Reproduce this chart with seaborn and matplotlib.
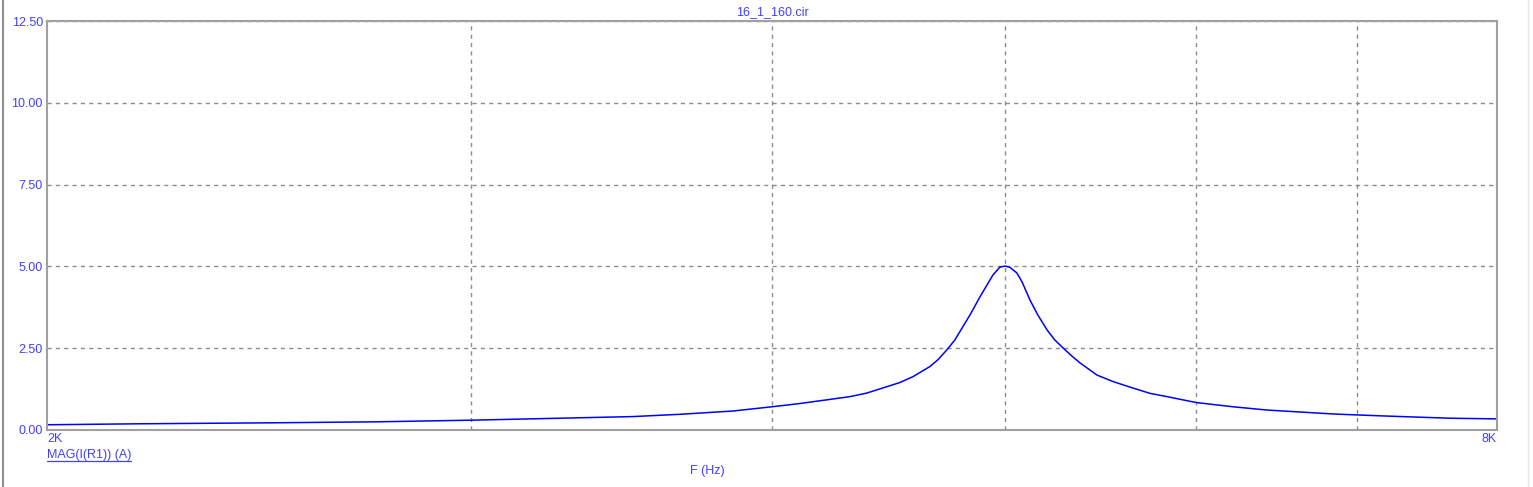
import numpy as np
import pandas as pd
import matplotlib
matplotlib.use('Agg')
import matplotlib.pyplot as plt
import matplotlib.ticker as mticker
from matplotlib.lines import Line2D
import seaborn as sns

# values
freq = [2000, 2186, 2482, 2742, 3000, 3266, 3502, 3663, 3853, 4000, 4109, 4310,
        4380, 4520, 4577, 4652, 4688, 4728, 4764, 4801, 4834, 4880, 4941, 4974,
        5000, 5022, 5055, 5080, 5119, 5158, 5203, 5242, 5283, 5328, 5370, 5457,
        5542, 5633, 5741, 5835, 6000, 6215, 6421, 6839, 7000, 7174, 7648, 8000]
mag = [0.16, 0.19, 0.22, 0.25, 0.30, 0.36, 0.41, 0.48, 0.58, 0.71, 0.81, 1.02,
       1.13, 1.45, 1.63, 1.94, 2.15, 2.45, 2.75, 3.16, 3.52, 4.07, 4.74, 4.98,
       5.01, 4.97, 4.80, 4.53, 3.97, 3.51, 3.06, 2.75, 2.51, 2.26, 2.05, 1.68,
       1.48, 1.31, 1.12, 1.02, 0.84, 0.71, 0.61, 0.49, 0.46, 0.43, 0.36, 0.34]
y_ticks = [0, 2.5, 5, 7.5, 10, 12.5]
x_grid = [3000, 4000, 5000, 6000, 7000]
x_labels = {2000: '2K', 8000: '8K'}

df = pd.DataFrame({'F': freq, 'MAG': mag})

sns.set_style('white')
plt.rcParams['font.family'] = ['Liberation Sans', 'DejaVu Sans']

txt_col = '#4040ff'
grid_col = '#8c8c8c'
fs = 9

fig = plt.figure(figsize=(15.33, 4.87), dpi=100)
ax = fig.add_axes([47 / 1533, 1 - 430 / 487, 1450 / 1533, 409 / 487])

sns.lineplot(data=df, x='F', y='MAG', ax=ax, color='#0000ff', linewidth=1.1)

ax.set_xscale('log')
ax.set_xlim(2000, 8000)
ax.set_ylim(0, 12.5)

ax.xaxis.set_major_locator(mticker.FixedLocator(list(x_labels)))
ax.xaxis.set_major_formatter(mticker.FixedFormatter(list(x_labels.values())))
ax.xaxis.set_minor_locator(mticker.FixedLocator(x_grid))
ax.xaxis.set_minor_formatter(mticker.NullFormatter())
ax.set_yticks(y_ticks)
ax.yaxis.set_major_formatter(mticker.FormatStrFormatter('%.2f'))

ax.tick_params(axis='both', which='both', length=0, labelsize=fs, labelcolor=txt_col)
ax.tick_params(axis='x', pad=2)
ax.tick_params(axis='y', pad=3)
labs = ax.get_xticklabels()
labs[0].set_ha('left')
labs[1].set_ha('right')

ax.grid(False)
ax.xaxis.grid(True, which='minor', color=grid_col, linestyle=(0, (3, 3)), linewidth=1.0)
ax.yaxis.grid(True, which='major', color=grid_col, linestyle=(0, (3, 3)), linewidth=1.0)

for s in ax.spines.values():
    s.set_color('#a0a0a0')
    s.set_linewidth(1.5)

ax.set_xlabel('')
ax.set_ylabel('')

fig.text(772 / 1533, 1 - 12 / 487, '16_1_160.cir', color=txt_col, fontsize=fs,
         ha='center', va='center')
fig.text(707 / 1533, 1 - 471 / 487, 'F (Hz)', color=txt_col, fontsize=fs,
         ha='center', va='center')
leg = fig.text(47 / 1533, 1 - 455 / 487, 'MAG(I(R1)) (A)', color=txt_col, fontsize=fs,
               ha='left', va='center')

# underline the trace label
r = fig.canvas.get_renderer()
bb = leg.get_window_extent(r).transformed(fig.transFigure.inverted())
fig.add_artist(Line2D([bb.x0, bb.x1], [bb.y0 + 0.001, bb.y0 + 0.001],
                      color=txt_col, linewidth=0.9, transform=fig.transFigure))

# window frame lines
fig.add_artist(Line2D([2.5 / 1533, 2.5 / 1533], [0, 1], color='#909090', linewidth=1.5,
                      transform=fig.transFigure))
fig.add_artist(Line2D([1528 / 1533, 1528 / 1533], [0, 1], color='#e6e6e6', linewidth=1.0,
                      transform=fig.transFigure))

fig.savefig('out.png', dpi=100)
